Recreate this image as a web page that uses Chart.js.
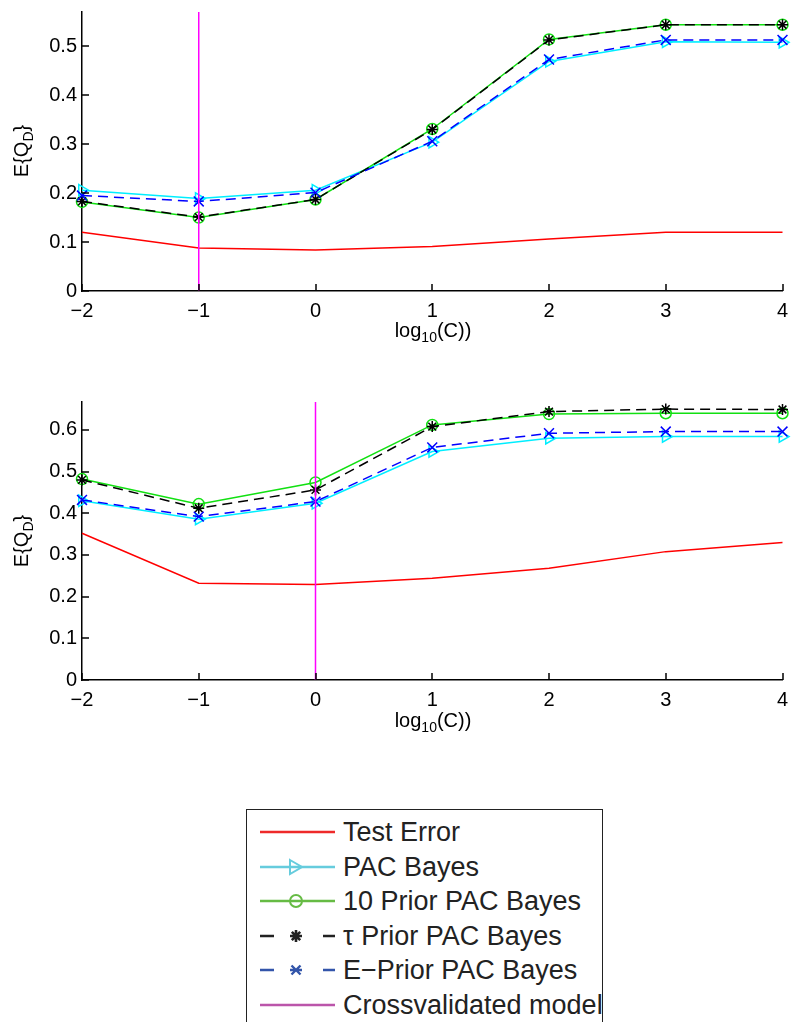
<!DOCTYPE html>
<html>
<head>
<meta charset="utf-8">
<script src="https://cdn.jsdelivr.net/npm/chart.js@4/dist/chart.umd.min.js"></script>
<style>
body { margin: 0; background: #fff; font-family: "Liberation Sans", Arial, sans-serif; }
#page { position: relative; width: 791px; height: 1022px; overflow: hidden; }
canvas { position: absolute; left: 0; }
.ytitle { position: absolute; font-size: 20px; line-height: 20px; white-space: nowrap; color: #000;
          transform: translate(-50%, -50%) rotate(-90deg); }
.xtitle { position: absolute; font-size: 20px; line-height: 20px; white-space: nowrap; color: #000;
          transform: translateX(-50%); }
sub { font-size: 14px; vertical-align: -5px; line-height: 0; }
#legend { position: absolute; left: 246px; top: 809px; width: 355px; height: 260px; border: 1.5px solid #222; }
.row { position: absolute; left: 0; width: 355px; height: 34px; }
.row svg { position: absolute; left: 12px; top: 0; }
.row span { position: absolute; left: 96px; top: 0; font-size: 27px; line-height: 34px; color: #222; white-space: nowrap; }
</style>
</head>
<body>
<div id="page">
  <canvas id="top-chart" width="791" height="345" style="top:0"></canvas>
  <canvas id="bottom-chart" width="791" height="344" style="top:390px"></canvas>

  <div class="ytitle" style="left:21px; top:151px">E{Q<sub>D</sub>}</div>
  <div class="xtitle" style="left:433px; top:320px">log<sub>10</sub>(C))</div>
  <div class="ytitle" style="left:21px; top:541px">E{Q<sub>D</sub>}</div>
  <div class="xtitle" style="left:433px; top:710px">log<sub>10</sub>(C))</div>

  <div id="legend"></div>
</div>

<script>
// x values (log10 of C)
var logC = [-2, -1, 0, 1, 2, 3, 4];

// top panel
var testErrTop = [0.120, 0.088, 0.084, 0.091, 0.106, 0.120, 0.120];
var pacTop     = [0.206, 0.189, 0.206, 0.304, 0.469, 0.509, 0.508];
var prior10Top = [0.182, 0.150, 0.187, 0.331, 0.514, 0.544, 0.544];
var tauTop     = [0.183, 0.151, 0.187, 0.330, 0.513, 0.544, 0.544];
var ePriorTop  = [0.195, 0.183, 0.201, 0.306, 0.473, 0.513, 0.513];
var cvTop = -1;
var yMaxTop = 0.57;

// bottom panel
var testErrBot = [0.352, 0.232, 0.229, 0.244, 0.268, 0.308, 0.330];
var pacBot     = [0.430, 0.386, 0.424, 0.548, 0.580, 0.584, 0.584];
var prior10Bot = [0.482, 0.422, 0.474, 0.612, 0.638, 0.640, 0.640];
var tauBot     = [0.480, 0.412, 0.456, 0.608, 0.644, 0.650, 0.649];
var ePriorBot  = [0.432, 0.392, 0.428, 0.558, 0.592, 0.596, 0.596];
var cvBot = 0;
var yMaxBot = 0.667;

var labels = ["Test Error", "PAC Bayes", "10 Prior PAC Bayes", "\u03c4 Prior PAC Bayes",
              "E\u2212Prior PAC Bayes", "Crossvalidated model"];

var fontFamily = '"Liberation Sans", Arial, sans-serif';

function pts(vals) {
    return logC.map(function(x, i) { return {x: x, y: vals[i]}; });
}

// matlab style ticks pointing into the plot
var inwardTicks = {
    id: 'inwardTicks',
    afterDraw: function(chart) {
        var c = chart.ctx, a = chart.chartArea;
        var xs = chart.scales.x, ys = chart.scales.y;
        c.save();
        c.strokeStyle = '#000';
        c.lineWidth = 1.5;
        xs.ticks.forEach(function(t) {
            var px = Math.round(xs.getPixelForValue(t.value));
            c.beginPath(); c.moveTo(px, a.bottom); c.lineTo(px, a.bottom - 7); c.stroke();
        });
        ys.ticks.forEach(function(t) {
            var py = Math.round(ys.getPixelForValue(t.value));
            c.beginPath(); c.moveTo(a.left, py); c.lineTo(a.left + 7, py); c.stroke();
        });
        c.restore();
    }
};

function makeChart(id, err, pac, p10, tau, ep, cv, ymax) {
    var ctx = document.getElementById(id).getContext('2d');
    return new Chart(ctx, {
        type: 'line',
        data: {
            datasets: [{
                label: labels[0], data: pts(err), borderColor: '#ff0000', borderWidth: 1.5,
                pointRadius: 0, order: 6
            }, {
                label: labels[1], data: pts(pac), borderColor: '#00eeff', borderWidth: 1.5,
                backgroundColor: 'rgba(0,0,0,0)', pointStyle: 'triangle', pointRotation: 90,
                pointRadius: 6.5, pointBorderWidth: 1.5, order: 5
            }, {
                label: labels[2], data: pts(p10), borderColor: '#11e011', borderWidth: 1.5,
                backgroundColor: 'rgba(0,0,0,0)', pointStyle: 'circle',
                pointRadius: 5.5, pointBorderWidth: 1.5, order: 4
            }, {
                label: labels[3], data: pts(tau), borderColor: '#000000', borderWidth: 1.5,
                borderDash: [10, 6], backgroundColor: 'rgba(0,0,0,0)', pointStyle: 'star',
                pointRadius: 5.5, pointBorderWidth: 1.5, order: 3
            }, {
                label: labels[4], data: pts(ep), borderColor: '#0000ff', borderWidth: 1.5,
                borderDash: [10, 6], backgroundColor: 'rgba(0,0,0,0)', pointStyle: 'crossRot',
                pointRadius: 7, pointBorderWidth: 1.5, order: 2
            }, {
                label: labels[5], data: [{x: cv, y: 0}, {x: cv, y: ymax}], borderColor: '#ff00ff',
                borderWidth: 1.5, pointRadius: 0, order: 1
            }]
        },
        options: {
            responsive: false,
            animation: false,
            clip: false,
            layout: { padding: 0 },
            plugins: { legend: { display: false }, tooltip: { enabled: false } },
            elements: { line: { tension: 0 } },
            scales: {
                x: {
                    type: 'linear', min: -2, max: 4,
                    // fixed plot box: axis 54px tall, 6px free on the right
                    afterFit: function(s) { s.height = 54; s.paddingLeft = 0; s.paddingRight = 6; },
                    grid: { display: false, drawTicks: false },
                    border: { display: true, color: '#000', width: 1.5 },
                    ticks: {
                        stepSize: 1, padding: 8, color: '#000',
                        font: { size: 20, family: fontFamily },
                        callback: function(v) { return v < 0 ? '\u2212' + (-v) : String(v); }
                    }
                },
                y: {
                    type: 'linear', min: 0, max: ymax,
                    afterFit: function(s) { s.width = 82; s.paddingTop = 12; s.paddingBottom = 0; },
                    grid: { display: false, drawTicks: false },
                    border: { display: true, color: '#000', width: 1.5 },
                    ticks: {
                        stepSize: 0.1, includeBounds: false, padding: 5, color: '#000',
                        font: { size: 20, family: fontFamily },
                        callback: function(v) { return String(Math.round(v * 10) / 10); }
                    }
                }
            }
        },
        plugins: [inwardTicks]
    });
}

makeChart('top-chart', testErrTop, pacTop, prior10Top, tauTop, ePriorTop, cvTop, yMaxTop);
makeChart('bottom-chart', testErrBot, pacBot, prior10Bot, tauBot, ePriorBot, cvBot, yMaxBot);

// legend box, drawn as html + svg samples
var legendColors = ['#ee2a2a', '#66ccdd', '#66bb44', '#222222', '#3355aa', '#bb55aa'];
var legendMarks = [
    '',
    '<polygon points="31,10 43,17 31,24" fill="none" stroke-width="2"/>',
    '<circle cx="37" cy="17" r="6" fill="none" stroke-width="2"/>',
    '<path d="M37,11V23M31,17H43M32.8,12.8L41.2,21.2M41.2,12.8L32.8,21.2" stroke-width="2.6"/>',
    '<path d="M32.5,12.5L41.5,21.5M41.5,12.5L32.5,21.5M31,17H43" stroke-width="2.4"/>',
    ''
];
var legendDash = ['', '', '', '14 49 13', '14 49 13', ''];

var html = '';
for (var i = 0; i < labels.length; i++) {
    var rowTop = 22 + i * 34.6 - 17;
    var dash = legendDash[i] ? ' stroke-dasharray="' + legendDash[i] + '"' : '';
    html += '<div class="row" style="top:' + rowTop + 'px">' +
        '<svg width="80" height="34" stroke="' + legendColors[i] + '">' +
        '<line x1="1" y1="17" x2="76" y2="17" stroke-width="2.4"' + dash + '/>' +
        legendMarks[i] + '</svg>' +
        '<span>' + labels[i] + '</span></div>';
}
document.getElementById('legend').innerHTML = html;
</script>
</body>
</html>
